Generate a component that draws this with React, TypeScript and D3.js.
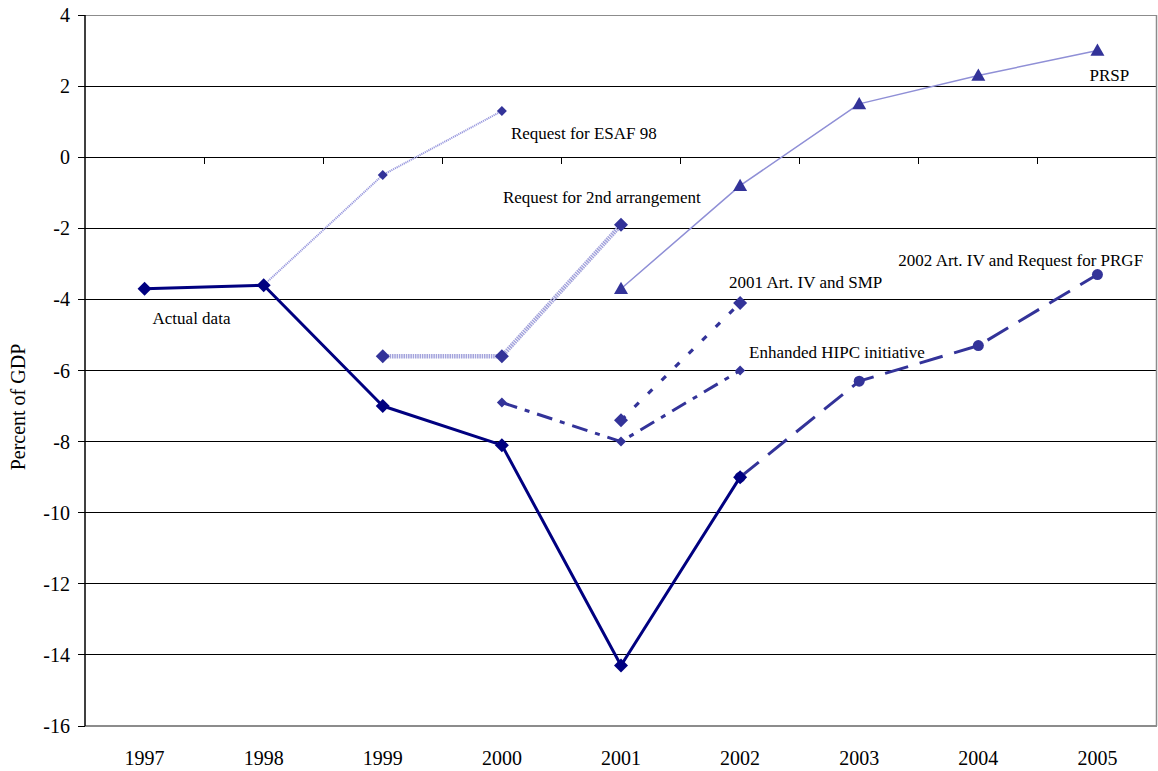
import { useEffect, useRef } from 'react';
import * as d3 from 'd3';

const years = ['1997', '1998', '1999', '2000', '2001', '2002', '2003', '2004', '2005'];
const yTicks = [4, 2, 0, -2, -4, -6, -8, -10, -12, -14, -16];

// each series: [year, value]
const actualData: [string, number][] = [
  ['1997', -3.7], ['1998', -3.6], ['1999', -7.0], ['2000', -8.1], ['2001', -14.3], ['2002', -9.0],
];
const esaf98: [string, number][] = [['1998', -3.6], ['1999', -0.5], ['2000', 1.3]];
const secondArrangement: [string, number][] = [['1999', -5.6], ['2000', -5.6], ['2001', -1.9]];
const prsp: [string, number][] = [
  ['2001', -3.7], ['2002', -0.8], ['2003', 1.5], ['2004', 2.3], ['2005', 3.0],
];
const artIV2001: [string, number][] = [['2001', -7.4], ['2002', -4.1]];
const hipc: [string, number][] = [['2000', -6.9], ['2001', -8.0], ['2002', -6.0]];
const prgf2002: [string, number][] = [['2002', -9.0], ['2003', -6.3], ['2004', -5.3], ['2005', -3.3]];

type MarkerKind = 'diamond' | 'triangle' | 'circle';

interface SeriesStyle {
  data: [string, number][];
  stroke: string;
  width: number;
  dash: string;
  marker: MarkerKind;
  size: number;
  markerFill: string;
}

const series: SeriesStyle[] = [
  { data: esaf98, stroke: '#9a9ade', width: 2, dash: '1.2,0.8', marker: 'diamond', size: 5, markerFill: '#333399' },
  { data: secondArrangement, stroke: '#a3a3dc', width: 4.5, dash: '1.5,0.8', marker: 'diamond', size: 7, markerFill: '#333399' },
  { data: prsp, stroke: '#8f8fd6', width: 1.5, dash: 'none', marker: 'triangle', size: 7, markerFill: '#333399' },
  { data: artIV2001, stroke: '#333399', width: 3.2, dash: '6,13', marker: 'diamond', size: 7, markerFill: '#333399' },
  { data: hipc, stroke: '#333399', width: 3, dash: '16,8,5,8', marker: 'diamond', size: 5, markerFill: '#333399' },
  { data: prgf2002, stroke: '#333399', width: 3, dash: '24,12', marker: 'circle', size: 5.5, markerFill: '#333399' },
  { data: actualData, stroke: '#000080', width: 3, dash: 'none', marker: 'diamond', size: 7, markerFill: '#000080' },
];

// labels: left edge at the year's centre + dx, baseline at value
const labels = [
  { text: 'Actual data', year: '1997', dx: 8, value: -4.7 },
  { text: 'Request for ESAF 98', year: '2000', dx: 9, value: 0.5 },
  { text: 'Request for 2nd arrangement', year: '2000', dx: 1, value: -1.3 },
  { text: 'PRSP', year: '2005', dx: -8, value: 2.13 },
  { text: '2001 Art. IV and SMP', year: '2002', dx: -11, value: -3.68 },
  { text: 'Enhanded HIPC initiative', year: '2002', dx: 9, value: -5.65 },
  { text: '2002 Art. IV and Request for PRGF', year: '2004', dx: -80, value: -3.05 },
];

const W = 1158;
const H = 771;
const margin = { left: 85, right: 1, top: 15, bottom: 45 };
const FONT = 'Liberation Serif, serif';

const markerPath = (kind: MarkerKind, s: number) => {
  if (kind === 'diamond') return `M0,${-s}L${s},0L0,${s}L${-s},0Z`;
  if (kind === 'triangle') return `M0,${-s}L${s},${s * 0.75}L${-s},${s * 0.75}Z`;
  return d3.symbol().type(d3.symbolCircle).size(Math.PI * s * s)() as string;
};

export default function App() {
  const svgRef = useRef<SVGSVGElement>(null);

  useEffect(() => {
    if (!svgRef.current) return;
    const svg = d3.select(svgRef.current);
    svg.selectAll('*').remove();

    const x = d3.scaleBand<string>().domain(years).range([margin.left, W - margin.right]).padding(0);
    const xc = (yr: string) => (x(yr) as number) + x.bandwidth() / 2;
    const y = d3.scaleLinear().domain([-16, 4]).range([H - margin.bottom, margin.top]);

    // gridlines
    svg.append('g')
      .selectAll('line')
      .data(yTicks)
      .join('line')
      .attr('x1', margin.left)
      .attr('x2', W - margin.right)
      .attr('y1', d => y(d))
      .attr('y2', d => y(d))
      .attr('stroke', d => (d === 4 || d === -16 ? '#8c8c8c' : '#000'))
      .attr('stroke-width', d => (d === -16 ? 1.6 : 1))
      .attr('shape-rendering', 'crispEdges');

    // right border
    svg.append('line')
      .attr('x1', W - margin.right - 0.5)
      .attr('x2', W - margin.right - 0.5)
      .attr('y1', y(4))
      .attr('y2', y(-16))
      .attr('stroke', '#8c8c8c')
      .attr('stroke-width', 1.5);

    // y axis
    const yAxis = svg.append('g');
    yAxis.append('line')
      .attr('x1', margin.left).attr('x2', margin.left)
      .attr('y1', y(4)).attr('y2', y(-16))
      .attr('stroke', '#000').attr('stroke-width', 1.5);
    yAxis.selectAll('line.tick')
      .data(yTicks)
      .join('line')
      .attr('class', 'tick')
      .attr('x1', margin.left - 7).attr('x2', margin.left)
      .attr('y1', d => y(d)).attr('y2', d => y(d))
      .attr('stroke', '#000').attr('stroke-width', 1)
      .attr('shape-rendering', 'crispEdges');
    yAxis.selectAll('text')
      .data(yTicks)
      .join('text')
      .attr('x', margin.left - 15)
      .attr('y', d => y(d))
      .attr('dy', '0.35em')
      .attr('text-anchor', 'end')
      .attr('font-family', FONT)
      .attr('font-size', 20)
      .text(d => String(d));

    // category axis crossing at zero
    const boundaries = d3.range(years.length + 1).map(i => margin.left + i * x.bandwidth());
    svg.append('g')
      .selectAll('line')
      .data(boundaries.slice(1, -1))
      .join('line')
      .attr('x1', d => d).attr('x2', d => d)
      .attr('y1', y(0)).attr('y2', y(0) + 7)
      .attr('stroke', '#000').attr('stroke-width', 1)
      .attr('shape-rendering', 'crispEdges');

    svg.append('g')
      .selectAll('text')
      .data(years)
      .join('text')
      .attr('x', d => xc(d))
      .attr('y', H - 6)
      .attr('text-anchor', 'middle')
      .attr('font-family', FONT)
      .attr('font-size', 20)
      .text(d => d);

    // y axis title
    svg.append('text')
      .attr('transform', `translate(25, ${(y(-4) + y(-10)) / 2 + 1}) rotate(-90)`)
      .attr('text-anchor', 'middle')
      .attr('font-family', FONT)
      .attr('font-size', 20)
      .text('Percent of GDP');

    const line = d3.line<[string, number]>()
      .x(d => xc(d[0]))
      .y(d => y(d[1]));

    series.forEach(s => {
      svg.append('path')
        .datum(s.data)
        .attr('d', line)
        .attr('fill', 'none')
        .attr('stroke', s.stroke)
        .attr('stroke-width', s.width)
        .attr('stroke-dasharray', s.dash)
        .attr('stroke-linejoin', 'round');

      svg.append('g')
        .selectAll('path')
        .data(s.data)
        .join('path')
        .attr('transform', d => `translate(${xc(d[0])},${y(d[1])})`)
        .attr('d', markerPath(s.marker, s.size))
        .attr('fill', s.markerFill);
    });

    svg.append('g')
      .selectAll('text')
      .data(labels)
      .join('text')
      .attr('x', d => xc(d.year) + d.dx)
      .attr('y', d => y(d.value))
      .attr('font-family', FONT)
      .attr('font-size', 17)
      .text(d => d.text);
  }, []);

  return (
    <svg
      ref={svgRef}
      width={W}
      height={H}
      style={{ position: 'absolute', left: 0, top: 0, background: '#fff' }}
    />
  );
}
